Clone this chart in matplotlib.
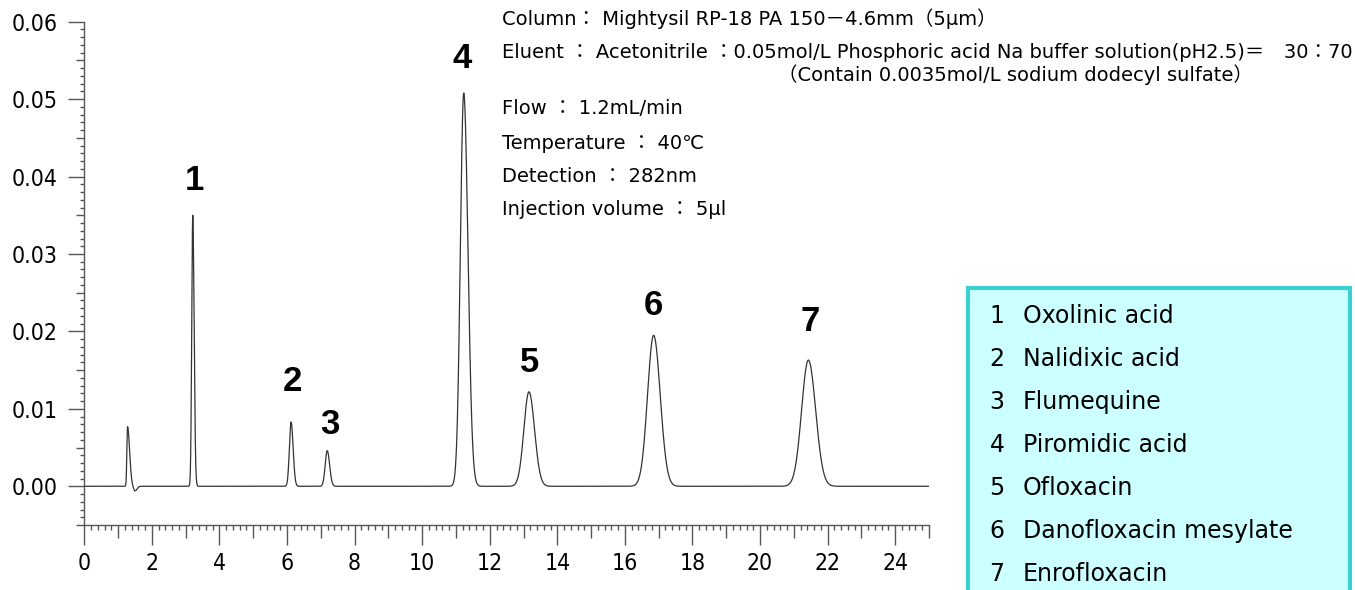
import numpy as np
import matplotlib
matplotlib.use("Agg")
from matplotlib import pyplot as plt
from matplotlib.patches import Rectangle

# peaks (retention time in min, height in AU, widths in min)
peak_times = [1.28, 1.50, 3.21, 6.12, 7.19, 11.23, 13.16, 16.85, 21.43]
peak_heights = [0.0077, -0.0006, 0.0350, 0.0083, 0.0046, 0.0508, 0.0122, 0.0195, 0.0163]
peak_sigma_left = [0.020, 0.040, 0.030, 0.050, 0.060, 0.100, 0.150, 0.180, 0.200]
peak_sigma_right = [0.060, 0.060, 0.040, 0.060, 0.070, 0.125, 0.165, 0.195, 0.215]

label_names = ["1", "2", "3", "4", "5", "6", "7"]
label_x = [3.25, 6.17, 7.27, 11.18, 13.17, 16.83, 21.47]
label_y = [0.0395, 0.0135, 0.0080, 0.0552, 0.0160, 0.0233, 0.0213]

compounds = ["Oxolinic acid", "Nalidixic acid", "Flumequine", "Piromidic acid",
             "Ofloxacin", "Danofloxacin mesylate", "Enrofloxacin"]

conditions = [
    "Column： Mightysil RP-18 PA 150－4.6mm（5μm）",
    "Eluent ： Acetonitrile ：0.05mol/L Phosphoric acid Na buffer solution(pH2.5)＝　30：70",
    "Flow ： 1.2mL/min",
    "Temperature ： 40℃",
    "Detection ： 282nm",
    "Injection volume ： 5μl",
]
conditions_y = [19, 52, 109, 143, 177, 210]
contain_note = "（Contain 0.0035mol/L sodium dodecyl sulfate）"

W, H = 1355, 590
fig = plt.figure(figsize=(W / 100, H / 100), dpi=100)
ax = fig.add_axes([84.3 / W, 1 - 525 / H, (929 - 84.3) / W, (525 - 21.7) / H])

t = np.linspace(0, 25, 10001)
signal = np.zeros_like(t)
for tr, h, sl, sr in zip(peak_times, peak_heights, peak_sigma_left, peak_sigma_right):
    s = np.where(t < tr, sl, sr)
    signal += h * np.exp(-0.5 * ((t - tr) / s) ** 2)
ax.plot(t, signal, color="#333333", lw=0.9)

ax.set_xlim(0, 25)
ax.set_ylim(-0.005, 0.06)
for side in ["top", "right"]:
    ax.spines[side].set_visible(False)
for side in ["left", "bottom"]:
    ax.spines[side].set_color("#555555")
    ax.spines[side].set_linewidth(1.0)

tick_font = dict(family=["DejaVu Sans"], stretch="condensed", size=16.5)

xt = np.arange(0, 26, 1)
ax.set_xticks(xt)
ax.set_xticklabels([str(v) if v % 2 == 0 else "" for v in xt], **tick_font)
ax.set_xticks(np.arange(0, 25.01, 0.2), minor=True)
yt = np.round(np.arange(-0.005, 0.0601, 0.005), 3)
ax.set_yticks(yt)
ax.set_yticklabels(["%.2f" % v if round(v * 1000) % 10 == 0 and v >= 0 else "" for v in yt], **tick_font)
ax.set_yticks(np.arange(-0.005, 0.0601, 0.001), minor=True)

ax.tick_params(axis="x", which="major", direction="out", length=14.4, width=1, color="#555555", pad=5)
ax.tick_params(axis="x", which="minor", direction="out", length=3.6, width=1, color="#555555")
ax.tick_params(axis="y", which="major", direction="out", length=11.5, width=1, color="#555555", pad=8)
ax.tick_params(axis="y", which="minor", direction="out", length=3, width=1, color="#555555")

for v, tk in zip(xt, ax.xaxis.get_major_ticks()):
    if v % 2 == 1:
        tk.tick1line.set_markersize(9.6)
for v, tk in zip(yt, ax.yaxis.get_major_ticks()):
    if round(v * 1000) % 10 != 0:
        tk.tick1line.set_markersize(5.8)

for name, lx, ly in zip(label_names, label_x, label_y):
    ax.text(lx, ly, name, ha="center", va="center", fontsize=25, fontweight="bold",
            family=["Liberation Sans", "DejaVu Sans"])

cond_font = dict(family=["DejaVu Sans", "Noto Sans CJK JP"], size=14)
for txt, yy in zip(conditions, conditions_y):
    fig.text(502 / W, 1 - yy / H, txt, ha="left", va="center", **cond_font)
fig.text(778 / W, 1 - 75 / H, contain_note, ha="left", va="center", **cond_font)

# legend box of compound names
box = Rectangle((968 / W, -0.1), (1350 - 968) / W, 0.1 + (590 - 288) / H,
                transform=fig.transFigure, facecolor="#CCFFFF", edgecolor="#3CCFCF",
                linewidth=3, clip_on=False)
fig.patches.append(box)
for i, name in enumerate(compounds):
    yy = 316 + 43 * i
    fig.text(997 / W, 1 - yy / H, str(i + 1), ha="center", va="center",
             family=["DejaVu Sans"], size=17)
    fig.text(1023 / W, 1 - yy / H, name, ha="left", va="center",
             family=["DejaVu Sans"], size=17)

fig.savefig("out.png", dpi=100, facecolor="white")
